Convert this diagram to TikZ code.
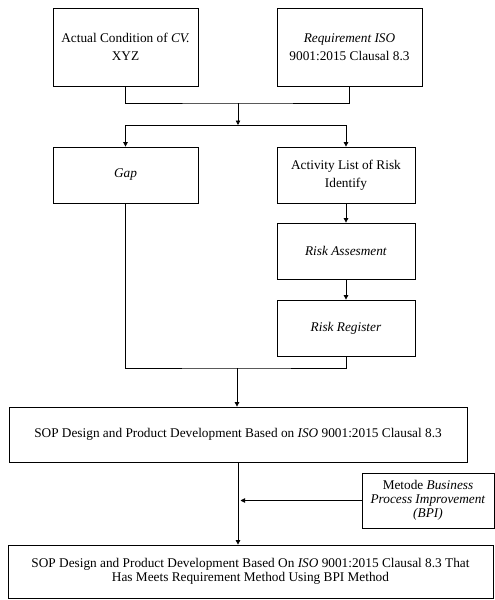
\documentclass[tikz,border=0pt]{standalone}
\usepackage{fontspec}
\setmainfont{Liberation Serif}
\usepackage{tikz}
\usetikzlibrary{positioning,arrows.meta,calc}
\tikzset{
  >={Triangle[length=4.5pt,width=4.5pt]},
  x=1pt,y=-1pt,
  procbox/.style={draw,line width=0.8pt,align=center,inner sep=2pt,
    font=\fontsize{13.3}{18}\selectfont},
  widebox/.style={procbox,font=\fontsize{13.3}{14.2}\selectfont},
  flow/.style={->,line width=0.8pt},
  link/.style={line width=0.8pt},
}
\begin{document}
\begin{tikzpicture}
  \useasboundingbox (0,0) rectangle (495,600);
  % top row
  \node[procbox,minimum width=145pt,minimum height=78pt] (actual) at (125.5,47)
    {Actual Condition of \textit{CV.}\\XYZ};
  \node[procbox,minimum width=145pt,minimum height=78pt] (req) at (349.5,47)
    {\textit{Requirement ISO}\\9001:2015 Clausal 8.3};
  % second row
  \node[procbox,minimum width=145pt,minimum height=56pt] (gap) at (125.5,175)
    {\textit{Gap}};
  \node[procbox,minimum width=138pt,minimum height=56pt] (act) at (346,175)
    {Activity List of Risk\\Identify};
  \node[procbox,minimum width=138pt,minimum height=56pt] (assess) at (346,251)
    {\textit{Risk Assesment}};
  \node[procbox,minimum width=138pt,minimum height=56pt] (register) at (346,328)
    {\textit{Risk Register}};
  % bottom part
  \node[procbox,minimum width=458pt,minimum height=55pt] (sop) at (238,434.5)
    {SOP Design and Product Development Based on \textit{ISO} 9001:2015 Clausal 8.3};
  \node[widebox,minimum width=132pt,minimum height=55pt] (bpi) at (428,500.5)
    {Metode \textit{Business}\\\textit{Process Improvement}\\\textit{(BPI)}};
  \node[widebox,minimum width=485pt,minimum height=53pt] (final) at (250.5,571.5)
    {SOP Design and Product Development Based On \textit{ISO} 9001:2015 Clausal 8.3 That\\Has Meets Requirement Method Using BPI Method};
  % junctions
  \coordinate (j1) at (238,103);
  \coordinate (j2) at (238,125);
  \coordinate (j3) at (237,368);
  % connectors
  \draw[link] (actual.south) |- (j1) -| (req.south);
  \draw[flow] (j1) -- (j2);
  \draw[flow] (j2) -| (gap.north);
  \draw[flow] (j2) -| (act.north);
  \draw[flow] (act) -- (assess);
  \draw[flow] (assess) -- (register);
  \draw[link] (gap.south) |- (j3) -| (register.south);
  \draw[flow] (j3) -- (j3 |- sop.north);
  \draw[flow] (sop.south) -- (sop.south |- final.north);
  \draw[flow,shorten >=2.5pt] (bpi.west) -- (bpi.west -| sop.south);
\end{tikzpicture}
\end{document}
